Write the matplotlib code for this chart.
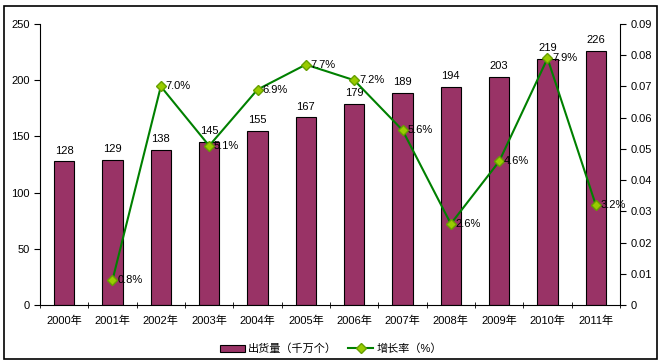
import matplotlib
matplotlib.use("Agg")
import matplotlib.pyplot as plt
from matplotlib.lines import Line2D
from matplotlib.patches import Patch, Rectangle
import numpy as np

plt.rcParams['font.family'] = ['Liberation Sans', 'Noto Sans CJK SC', 'DejaVu Sans']

years = ['2000年', '2001年', '2002年', '2003年', '2004年', '2005年',
         '2006年', '2007年', '2008年', '2009年', '2010年', '2011年']
shipments = [128, 129, 138, 145, 155, 167, 179, 189, 194, 203, 219, 226]
growth_years = years[1:]
growth = [0.008, 0.070, 0.051, 0.069, 0.077, 0.072, 0.056, 0.026, 0.046, 0.079, 0.032]
growth_labels = ['0.8%', '7.0%', '5.1%', '6.9%', '7.7%', '7.2%', '5.6%', '2.6%', '4.6%', '7.9%', '3.2%']
bar_name = '出货量（千万个）'
line_name = '增长率（%）'

FS = 8

fig = plt.figure(figsize=(6.62, 3.64), dpi=100)
fig.patches.append(Rectangle((4/662, 5/364), 653/662, 353/364, transform=fig.transFigure,
                             fill=False, edgecolor='black', linewidth=1.2))
ax = fig.add_axes([40/662, 59/364, 580/662, 281/364])
x = np.arange(len(years))
bars = ax.bar(x, shipments, width=0.42, color='#993366', edgecolor='black', linewidth=0.8, zorder=2)
for xi, v in zip(x, shipments):
    ax.text(xi, v + 5, str(v), ha='center', va='bottom', fontsize=FS)

ax.set_xlim(-0.5, len(years) - 0.5)
ax.set_ylim(0, 250)
ax.set_yticks(range(0, 251, 50))
ax.set_xticks(x)
ax.set_xticklabels(years, fontsize=FS)
ax.tick_params(axis='x', length=0, pad=8)
ax.set_xticks(np.arange(-0.5, len(years), 1), minor=True)
ax.tick_params(axis='x', which='minor', length=4, direction='inout')
ax.tick_params(axis='y', labelsize=FS, length=4, direction='out')
for s in ['top', 'right']:
    ax.spines[s].set_visible(False)

ax2 = ax.twinx()
gx = np.arange(1, len(years))
ax2.plot(gx, growth, color='#008000', linewidth=1.5, marker='D', markersize=5,
         markerfacecolor='#99CC00', markeredgecolor='#66A000', zorder=3)
for xi, v, lab in zip(gx, growth, growth_labels):
    ax2.text(xi + 0.1, v, lab, ha='left', va='center', fontsize=FS)
ax2.set_ylim(0, 0.09)
ax2.set_yticks(np.arange(0, 0.0901, 0.01))
ax2.set_yticklabels(['0'] + ['%.2f' % t for t in np.arange(0.01, 0.0901, 0.01)])
ax2.tick_params(axis='y', labelsize=FS, length=4, direction='out')
for s in ['top', 'left']:
    ax2.spines[s].set_visible(False)
ax2.spines['bottom'].set_visible(False)

handles = [Patch(facecolor='#993366', edgecolor='black', linewidth=0.8),
           Line2D([0], [0], color='#008000', linewidth=1.5, marker='D', markersize=5,
                  markerfacecolor='#99CC00', markeredgecolor='#66A000')]
fig.legend(handles, [bar_name, line_name], loc='center', bbox_to_anchor=(0.5, 15/364),
           ncol=2, frameon=False, fontsize=FS, handlelength=2.2, columnspacing=1.0,
           handletextpad=0.3)

fig.savefig('out.png', dpi=100)
